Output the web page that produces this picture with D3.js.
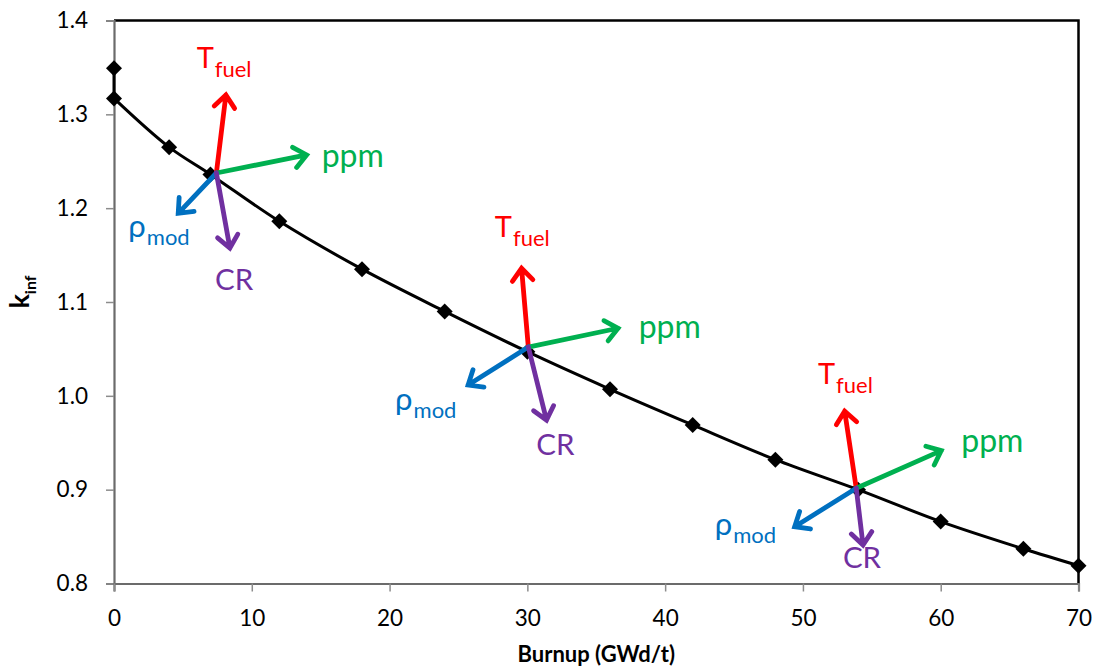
<!DOCTYPE html>
<html>
<head>
<meta charset="utf-8">
<script src="https://cdn.jsdelivr.net/npm/d3@7"></script>
<style>
  html, body { margin: 0; padding: 0; background: #fff; }
  svg { display: block; font-family: Lato, "Open Sans", sans-serif; }
</style>
</head>
<body>
<svg id="chart" width="1096" height="669"></svg>
<script>
// k-infinity versus burnup
const burnup = [0, 0, 4, 7, 12, 18, 24, 30, 36, 42, 48, 54, 60, 66, 70];
const kinf   = [1.349, 1.317, 1.265, 1.236, 1.186, 1.135, 1.090, 1.047, 1.007, 0.969, 0.932, 0.900, 0.866, 0.837, 0.819];

const xTicks = [0, 10, 20, 30, 40, 50, 60, 70];
const yTicks = [0.8, 0.9, 1.0, 1.1, 1.2, 1.3, 1.4];

// Reactivity-effect arrows: common origins (burnup, kinf) of the three arrow groups
const groupBurnup = [7.43, 30.07, 53.87];
const groupKinf   = [1.2375, 1.052, 0.9015];

// Arrow tips per effect, one [burnup, kinf] pair per group
const tfuelTips = [[8.12, 1.3206], [29.58, 1.1359], [53.03, 0.9837]];
const ppmTips   = [[13.98, 1.2567], [36.58, 1.0720], [60.04, 0.9416]];
const rhoTips   = [[4.66, 1.1945], [25.70, 1.0115], [49.40, 0.8605]];
const crTips    = [[8.41, 1.1575], [31.39, 0.9741], [54.36, 0.8410]];

// Label anchors per effect (start, baseline), one [burnup, kinf] pair per group
const tfuelLabels = [[6.00, 1.3494], [27.64, 1.1689], [51.09, 1.0126]];
const ppmLabels   = [[15.07, 1.2442], [38.08, 1.0613], [61.49, 0.9405]];
const rhoLabels   = [[1.04, 1.1693], [20.4, 0.9850], [43.6, 0.8518]];
const crLabels    = [[7.33, 1.1128], [30.65, 0.9369], [52.9, 0.8162]];

const svg = d3.select("#chart");
const plotLeft = 114, plotRight = 1078.5, plotTop = 20.5, plotBottom = 583.5;

const x = d3.scaleLinear().domain([0, 70]).range([plotLeft, plotRight]);
const y = d3.scaleLinear().domain([0.8, 1.4]).range([plotBottom, plotTop]);

// plot frame: top and right edges
svg.append("path")
  .attr("d", `M${plotLeft},${plotTop} H${plotRight} V${plotBottom}`)
  .attr("fill", "none").attr("stroke", "#000").attr("stroke-width", 2.5);

// axes
const yAxis = svg.append("g").attr("transform", `translate(${plotLeft},0)`)
  .call(d3.axisLeft(y).tickValues(yTicks).tickFormat(d3.format(".1f")).tickSize(8).tickPadding(18));
const xAxis = svg.append("g").attr("transform", `translate(0,${plotBottom})`)
  .call(d3.axisBottom(x).tickValues(xTicks).tickFormat(d3.format("d")).tickSize(8));

[yAxis, xAxis].forEach(g => {
  g.select(".domain").attr("stroke", "#6b6b6b").attr("stroke-width", 2.2);
  g.selectAll(".tick line").attr("stroke", "#8c8c8c").attr("stroke-width", 1.5);
  g.selectAll(".tick text").attr("fill", "#000")
    .style("font-family", "Lato, 'Open Sans', sans-serif").style("font-size", "22.5px");
});
xAxis.selectAll(".tick text").attr("y", 42.5).attr("dy", 0);

// axis titles
svg.append("text")
  .attr("x", (plotLeft + plotRight) / 2).attr("y", 662)
  .attr("text-anchor", "middle")
  .style("font-weight", "bold").style("font-size", "22px")
  .text("Burnup (GWd/t)");

const yTitle = svg.append("text")
  .attr("transform", `translate(29,${(plotTop + plotBottom) / 2 - 10}) rotate(-90)`)
  .attr("text-anchor", "middle")
  .style("font-weight", "bold");
yTitle.append("tspan").style("font-size", "27px").text("k");
yTitle.append("tspan").style("font-size", "16px").attr("dy", 7).text("inf");

// k-inf curve: straight step at zero burnup, smoothed afterwards
const pts = burnup.map((b, i) => [b, kinf[i]]);
const line = d3.line().x(d => x(d[0])).y(d => y(d[1]));
const curveStyle = p => p.attr("fill", "none").attr("stroke", "#000").attr("stroke-width", 3);
svg.append("path").datum(pts.slice(0, 2)).attr("d", line).call(curveStyle);
svg.append("path").datum(pts.slice(1))
  .attr("d", line.curve(d3.curveCatmullRom.alpha(0.5))).call(curveStyle);

const r = 8;
svg.append("g").selectAll("path").data(pts).join("path")
  .attr("transform", d => `translate(${x(d[0])},${y(d[1])})`)
  .attr("d", `M0,${-r} L${r},0 L0,${r} L${-r},0 Z`)
  .attr("fill", "#000");

// reactivity-effect arrows
const effects = [
  { tips: tfuelTips, labels: tfuelLabels, color: "#ff0000", main: "T", sub: "fuel", mainSize: 29, subSize: 22, subDy: 9 },
  { tips: ppmTips,   labels: ppmLabels,   color: "#00b050", main: "ppm", sub: "", mainSize: 32 },
  { tips: rhoTips,   labels: rhoLabels,   color: "#0070c0", main: "\u03c1", sub: "mod", mainSize: 31, subSize: 22, subDy: 8 },
  { tips: crTips,    labels: crLabels,    color: "#7030a0", main: "CR", sub: "", mainSize: 29.5 }
];

const arrows = svg.append("g");
const headLen = 16, headAng = 40 * Math.PI / 180;

groupBurnup.forEach((gb, gi) => {
  const ox = x(gb), oy = y(groupKinf[gi]);
  effects.forEach(e => {
    const tx = x(e.tips[gi][0]), ty = y(e.tips[gi][1]);
    const ang = Math.atan2(ty - oy, tx - ox);
    const a1 = [tx - headLen * Math.cos(ang - headAng), ty - headLen * Math.sin(ang - headAng)];
    const a2 = [tx - headLen * Math.cos(ang + headAng), ty - headLen * Math.sin(ang + headAng)];
    arrows.append("path")
      .attr("d", `M${ox},${oy} L${tx},${ty} M${a1[0]},${a1[1]} L${tx},${ty} L${a2[0]},${a2[1]}`)
      .attr("fill", "none").attr("stroke", e.color).attr("stroke-width", 4.8)
      .attr("stroke-linecap", "round").attr("stroke-linejoin", "miter");

    const t = svg.append("text")
      .attr("x", x(e.labels[gi][0])).attr("y", y(e.labels[gi][1]))
      .attr("fill", e.color);
    t.append("tspan").style("font-size", e.mainSize + "px").text(e.main);
    if (e.sub) t.append("tspan").style("font-size", e.subSize + "px").attr("dx", 1).attr("dy", e.subDy).text(e.sub);
  });
});
</script>
</body>
</html>
